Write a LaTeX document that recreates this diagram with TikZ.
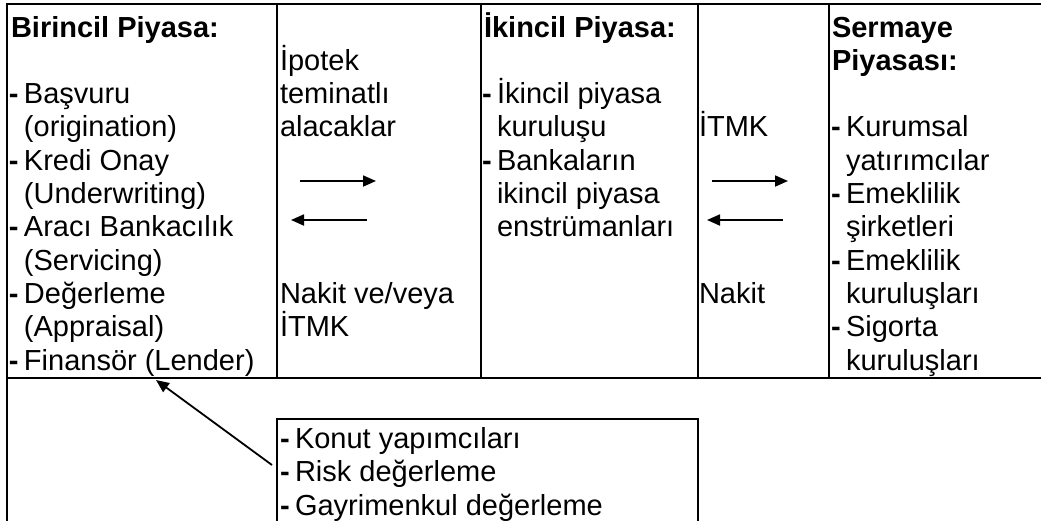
\documentclass[tikz,border=0pt]{standalone}
\usepackage{fontspec}
\setmainfont{Liberation Sans}
\usetikzlibrary{arrows.meta}
\tikzset{
  gridline/.style={line width=1.8pt, line cap=rect},
  cell/.style={anchor=base west, inner sep=0pt, outer sep=0pt},
  flow/.style={line width=1.8pt, -{Triangle[length=13pt,width=11pt]}},
}
\newcommand{\dsh}{\makebox[15pt][l]{\textbf{-}}}
\newcommand{\ind}{\hspace*{15pt}}
\newcommand{\celltext}[1]{\parbox[t]{330pt}{\fontsize{29}{33.3}\selectfont #1}}
\begin{document}
\begin{tikzpicture}[x=1pt,y=-1pt]
\useasboundingbox (0,0) rectangle (1041,520);
\begin{scope}
\clip (0,0) rectangle (1041,520);
% table grid
\draw[gridline] (1060,4) -- (7,4) -- (7,540);
\draw[gridline] (7,378) -- (1060,378);
\draw[gridline] (277,4) -- (277,378);
\draw[gridline] (481,4) -- (481,378);
\draw[gridline] (698,4) -- (698,378);
\draw[gridline] (829,4) -- (829,378);
% lower box
\draw[gridline] (277,540) -- (277,419) -- (698,419) -- (698,540);

% column 1
\node[cell] (t1) at (11,37) {\celltext{\textbf{Birincil Piyasa:}}};
\node[cell] (l1) at (9,103.6) {\celltext{\dsh Başvuru\\
\ind(origination)\\
\dsh Kredi Onay\\
\ind(Underwriting)\\
\dsh Aracı Bankacılık\\
\ind(Servicing)\\
\dsh Değerleme\\
\ind(Appraisal)\\
\dsh Finansör (Lender)}};

% column 2
\node[cell] (m1) at (280,70.3) {\celltext{İpotek\\teminatlı\\alacaklar}};
\node[cell] (m2) at (280,303.4) {\celltext{Nakit ve/veya\\İTMK}};
\coordinate (a1s) at (300,181);
\coordinate (a1e) at (376,181);
\coordinate (a2s) at (367,220);
\coordinate (a2e) at (291,220);
\draw[flow] (a1s) -- (a1e);
\draw[flow] (a2s) -- (a2e);

% column 3
\node[cell] (t3) at (484,37) {\celltext{\textbf{İkincil Piyasa:}}};
\node[cell] (l3) at (482,103.6) {\celltext{\dsh İkincil piyasa\\
\ind kuruluşu\\
\dsh Bankaların\\
\ind ikincil piyasa\\
\ind enstrümanları}};

% column 4
\node[cell] (r1) at (699,136.9) {\celltext{İTMK}};
\node[cell] (r2) at (699,303.4) {\celltext{Nakit}};
\coordinate (b1s) at (712,181);
\coordinate (b1e) at (788,181);
\coordinate (b2s) at (783,220);
\coordinate (b2e) at (707,220);
\draw[flow] (b1s) -- (b1e);
\draw[flow] (b2s) -- (b2e);

% column 5
\node[cell] (t5) at (832,37) {\celltext{\textbf{Sermaye}\\\textbf{Piyasası:}}};
\node[cell] (l5) at (831,136.9) {\celltext{\dsh Kurumsal\\
\ind yatırımcılar\\
\dsh Emeklilik\\
\ind şirketleri\\
\dsh Emeklilik\\
\ind kuruluşları\\
\dsh Sigorta\\
\ind kuruluşları}};

% lower box
\node[cell] (konut) at (280,448.5) {\celltext{\dsh Konut yapımcıları\\
\dsh Risk değerleme\\
\dsh Gayrimenkul değerleme}};
\coordinate (kin) at (272,465);
\coordinate (fin) at (156,380);
\draw[flow] (kin) -- (fin);
\end{scope}
\end{tikzpicture}
\end{document}
